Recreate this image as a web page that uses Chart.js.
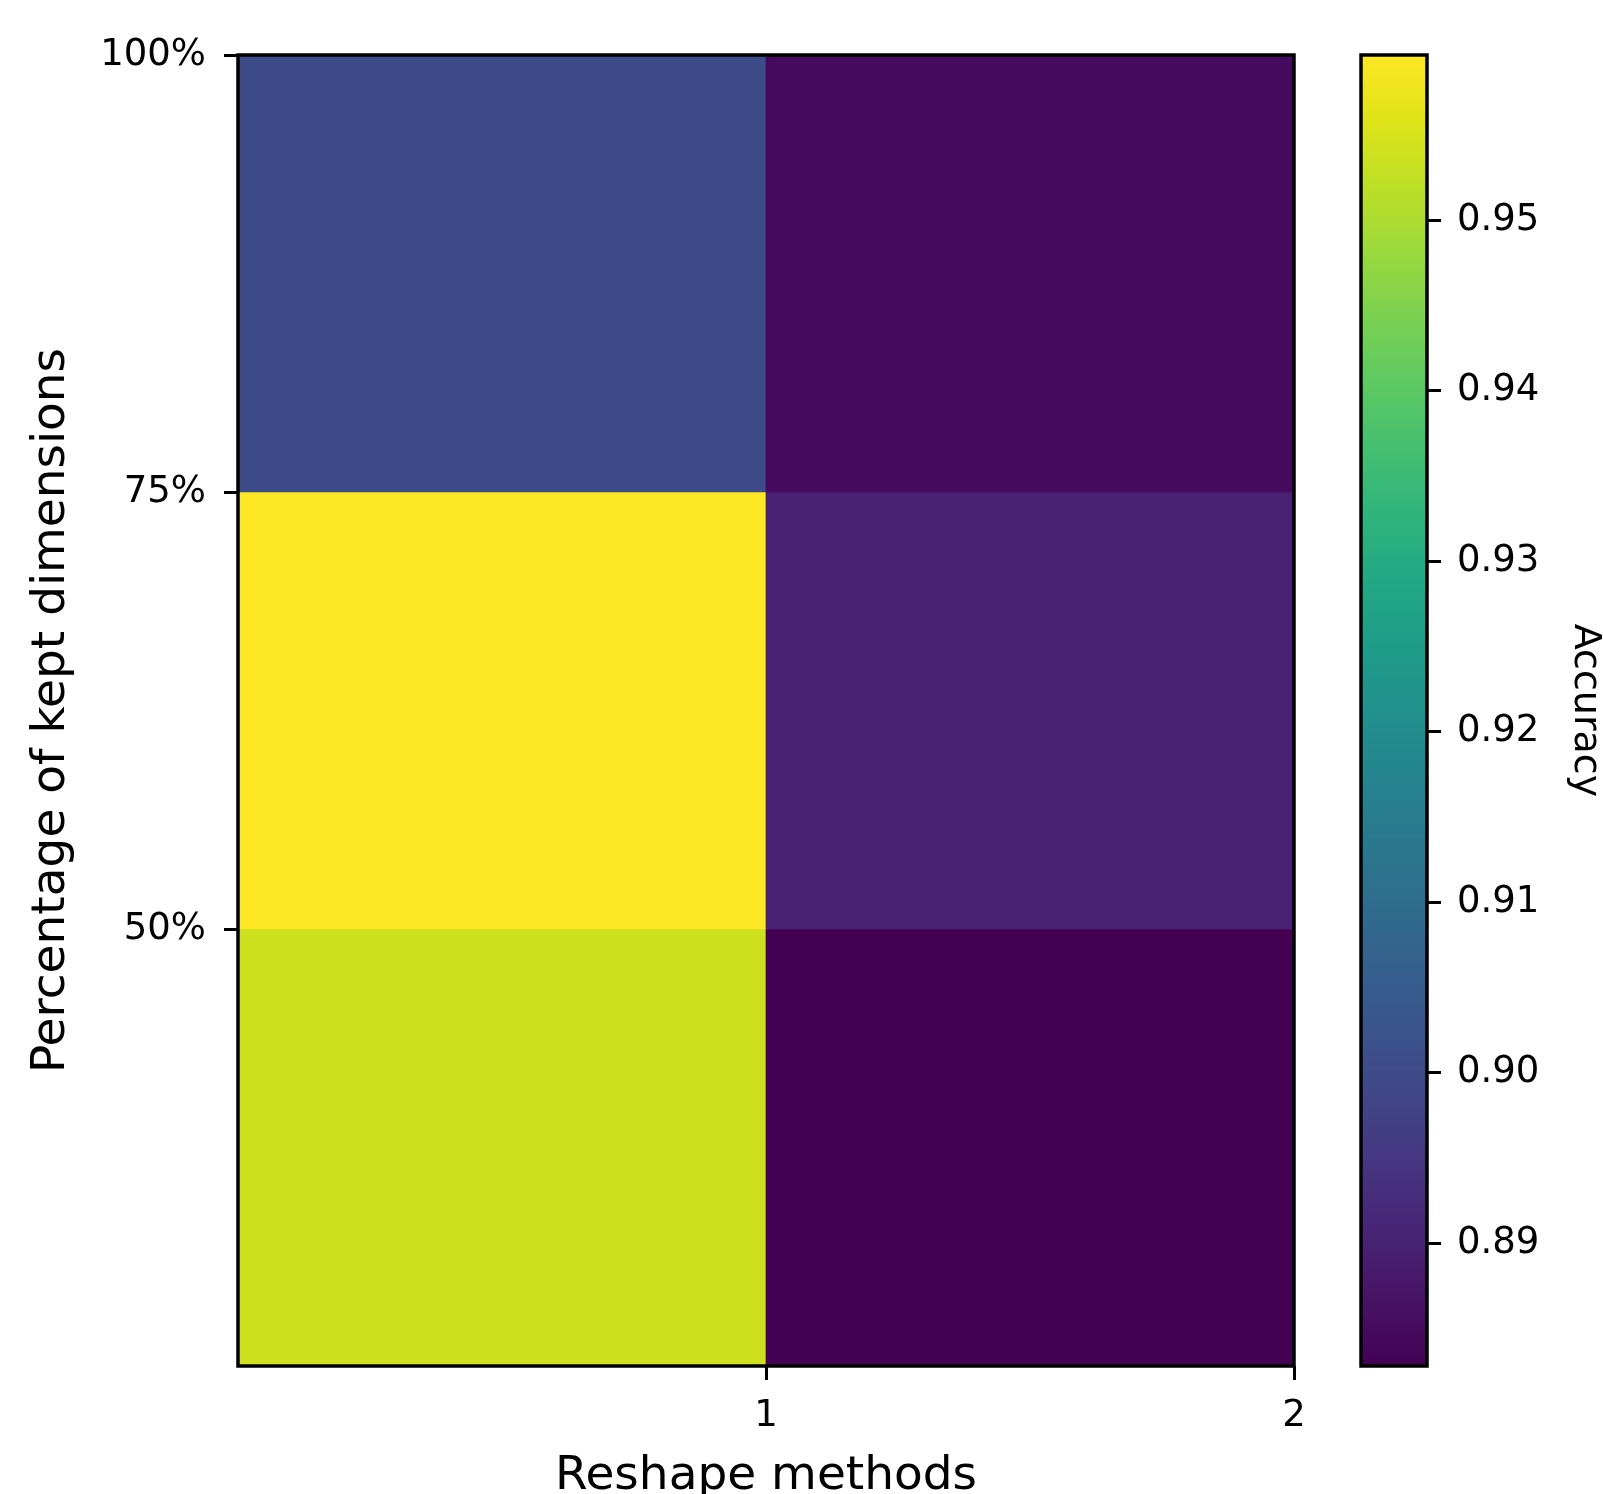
<!DOCTYPE html>
<html>
<head>
<meta charset="utf-8">
<title>Accuracy by reshape method and kept dimensions</title>
<script src="https://cdn.jsdelivr.net/npm/chart.js@4.4.1/dist/chart.umd.min.js"></script>
<style>
  html, body { margin: 0; padding: 0; background: #ffffff; }
  #wrap { position: relative; width: 1603px; height: 1494px; overflow: hidden; }
  #wrap canvas { position: absolute; left: 0; top: 0; }
</style>
</head>
<body>
<div id="wrap">
  <canvas id="heat" width="1603" height="1494"></canvas>
  <canvas id="cbar" width="1603" height="1494"></canvas>
</div>
<script>
// ---- data ----
const reshapeMethods = [1, 2];            // columns (each spans [m-1, m])
const keptDimensions = [100, 75, 50];     // rows, given by their upper edge (%)
const accuracy100 = [0.9000, 0.8850];
const accuracy75  = [0.9597, 0.8897];
const accuracy50  = [0.9538, 0.8828];
const percentTicks = [50, 75, 100];
const methodTicks = [1, 2];
const accuracyTicks = [0.89, 0.90, 0.91, 0.92, 0.93, 0.94, 0.95];

const rows = [accuracy100, accuracy75, accuracy50];
const ROW_SPAN = 25;
const allValues = rows.flat();
const vmin = Math.min(...allValues);
const vmax = Math.max(...allValues);

// viridis colour map, sampled every 0.05
const VIRIDIS = [
  '#440154', '#471365', '#482475', '#463480', '#414487', '#3b528b', '#355f8d',
  '#2f6c8e', '#2a788e', '#25848e', '#21918c', '#1e9c89', '#22a884', '#2fb47c',
  '#44bf70', '#5ec962', '#7ad151', '#9bd93c', '#bddf26', '#dfe318', '#fde725'
];
function hexRgb(h) {
  return [parseInt(h.slice(1, 3), 16), parseInt(h.slice(3, 5), 16), parseInt(h.slice(5, 7), 16)];
}
function viridis(t) {
  t = Math.max(0, Math.min(1, t));
  const pos = t * (VIRIDIS.length - 1);
  const i = Math.min(VIRIDIS.length - 2, Math.floor(pos));
  const f = pos - i;
  const a = hexRgb(VIRIDIS[i]), b = hexRgb(VIRIDIS[i + 1]);
  const c = a.map((v, k) => Math.round(v + (b[k] - v) * f));
  return `rgb(${c[0]},${c[1]},${c[2]})`;
}

const FONT = 'DejaVu Sans';
const TICK_FONT = { family: FONT, size: 37 };
const tickGrid = {
  display: true, drawOnChartArea: false, drawTicks: true,
  tickLength: 14, tickWidth: 3, tickColor: '#000', offset: false
};

// black outline around the plotting area
const frame = {
  id: 'frame',
  afterDatasetsDraw(chart) {
    const { ctx, chartArea: a } = chart;
    ctx.save();
    ctx.lineWidth = 3.5;
    ctx.strokeStyle = '#000';
    ctx.strokeRect(a.left, a.top, a.right - a.left, a.bottom - a.top);
    ctx.restore();
  }
};

// ---- heat map: one floating-bar dataset per row ----
const heatDatasets = keptDimensions.map((top, r) => ({
  label: top + '%',
  data: reshapeMethods.map(m => ({ x: m - 0.5, y: [top - ROW_SPAN, top] })),
  backgroundColor: rows[r].map(v => viridis((v - vmin) / (vmax - vmin))),
  borderWidth: 0,
  barPercentage: 1,
  categoryPercentage: 1,
  grouped: false
}));

new Chart(document.getElementById('heat'), {
  type: 'bar',
  data: { datasets: heatDatasets },
  options: {
    responsive: false,
    animation: false,
    events: [],
    layout: { padding: { left: 0, top: 55, right: 309, bottom: 0 } },
    plugins: { legend: { display: false }, tooltip: { enabled: false } },
    scales: {
      x: {
        type: 'linear', min: 0, max: 2, offset: false,
        afterBuildTicks: s => { s.ticks = methodTicks.map(v => ({ value: v })); },
        afterFit: s => { s.height = 128; },
        ticks: { font: TICK_FONT, color: '#000', padding: 14, maxRotation: 0, callback: v => String(v) },
        grid: tickGrid,
        border: { display: false },
        title: {
          display: true, text: 'Reshape methods', color: '#000',
          font: { family: FONT, size: 47, lineHeight: 1 },
          padding: { top: 0, bottom: -6 }
        }
      },
      y: {
        type: 'linear', min: 25, max: 100,
        afterBuildTicks: s => { s.ticks = percentTicks.map(v => ({ value: v })); },
        afterFit: s => { s.width = 238; },
        ticks: { font: TICK_FONT, color: '#000', padding: 18, callback: v => v + '%' },
        grid: tickGrid,
        border: { display: false },
        title: {
          display: true, text: 'Percentage of kept dimensions', color: '#000',
          font: { family: FONT, size: 47, lineHeight: 1.2 },
          padding: { top: 24, bottom: 0 }
        }
      }
    }
  },
  plugins: [frame]
});

// ---- colour bar ----
new Chart(document.getElementById('cbar'), {
  type: 'bar',
  data: {
    labels: [''],
    datasets: [{
      data: [[vmin, vmax]],
      backgroundColor(ctx) {
        const chart = ctx.chart;
        const y = chart.scales.y;
        if (!y || !chart.chartArea) return viridis(0.5);
        const g = chart.ctx.createLinearGradient(0, y.getPixelForValue(vmin), 0, y.getPixelForValue(vmax));
        VIRIDIS.forEach((c, i) => g.addColorStop(i / (VIRIDIS.length - 1), c));
        return g;
      },
      borderWidth: 0,
      barPercentage: 1,
      categoryPercentage: 1
    }]
  },
  options: {
    responsive: false,
    animation: false,
    events: [],
    layout: { padding: { left: 1361, top: 55, right: 0, bottom: 128 } },
    plugins: { legend: { display: false }, tooltip: { enabled: false } },
    scales: {
      x: { display: false },
      y: {
        position: 'right', min: vmin, max: vmax,
        afterBuildTicks: s => { s.ticks = accuracyTicks.map(v => ({ value: v })); },
        afterFit: s => { s.width = 176; },
        ticks: { font: TICK_FONT, color: '#000', padding: 16, callback: v => v.toFixed(2) },
        grid: tickGrid,
        border: { display: false },
        title: {
          display: true, text: 'Accuracy', color: '#000',
          font: { family: FONT, size: 38, lineHeight: 1 },
          padding: { top: -1, bottom: 0 }
        }
      }
    }
  },
  plugins: [frame]
});
</script>
</body>
</html>
